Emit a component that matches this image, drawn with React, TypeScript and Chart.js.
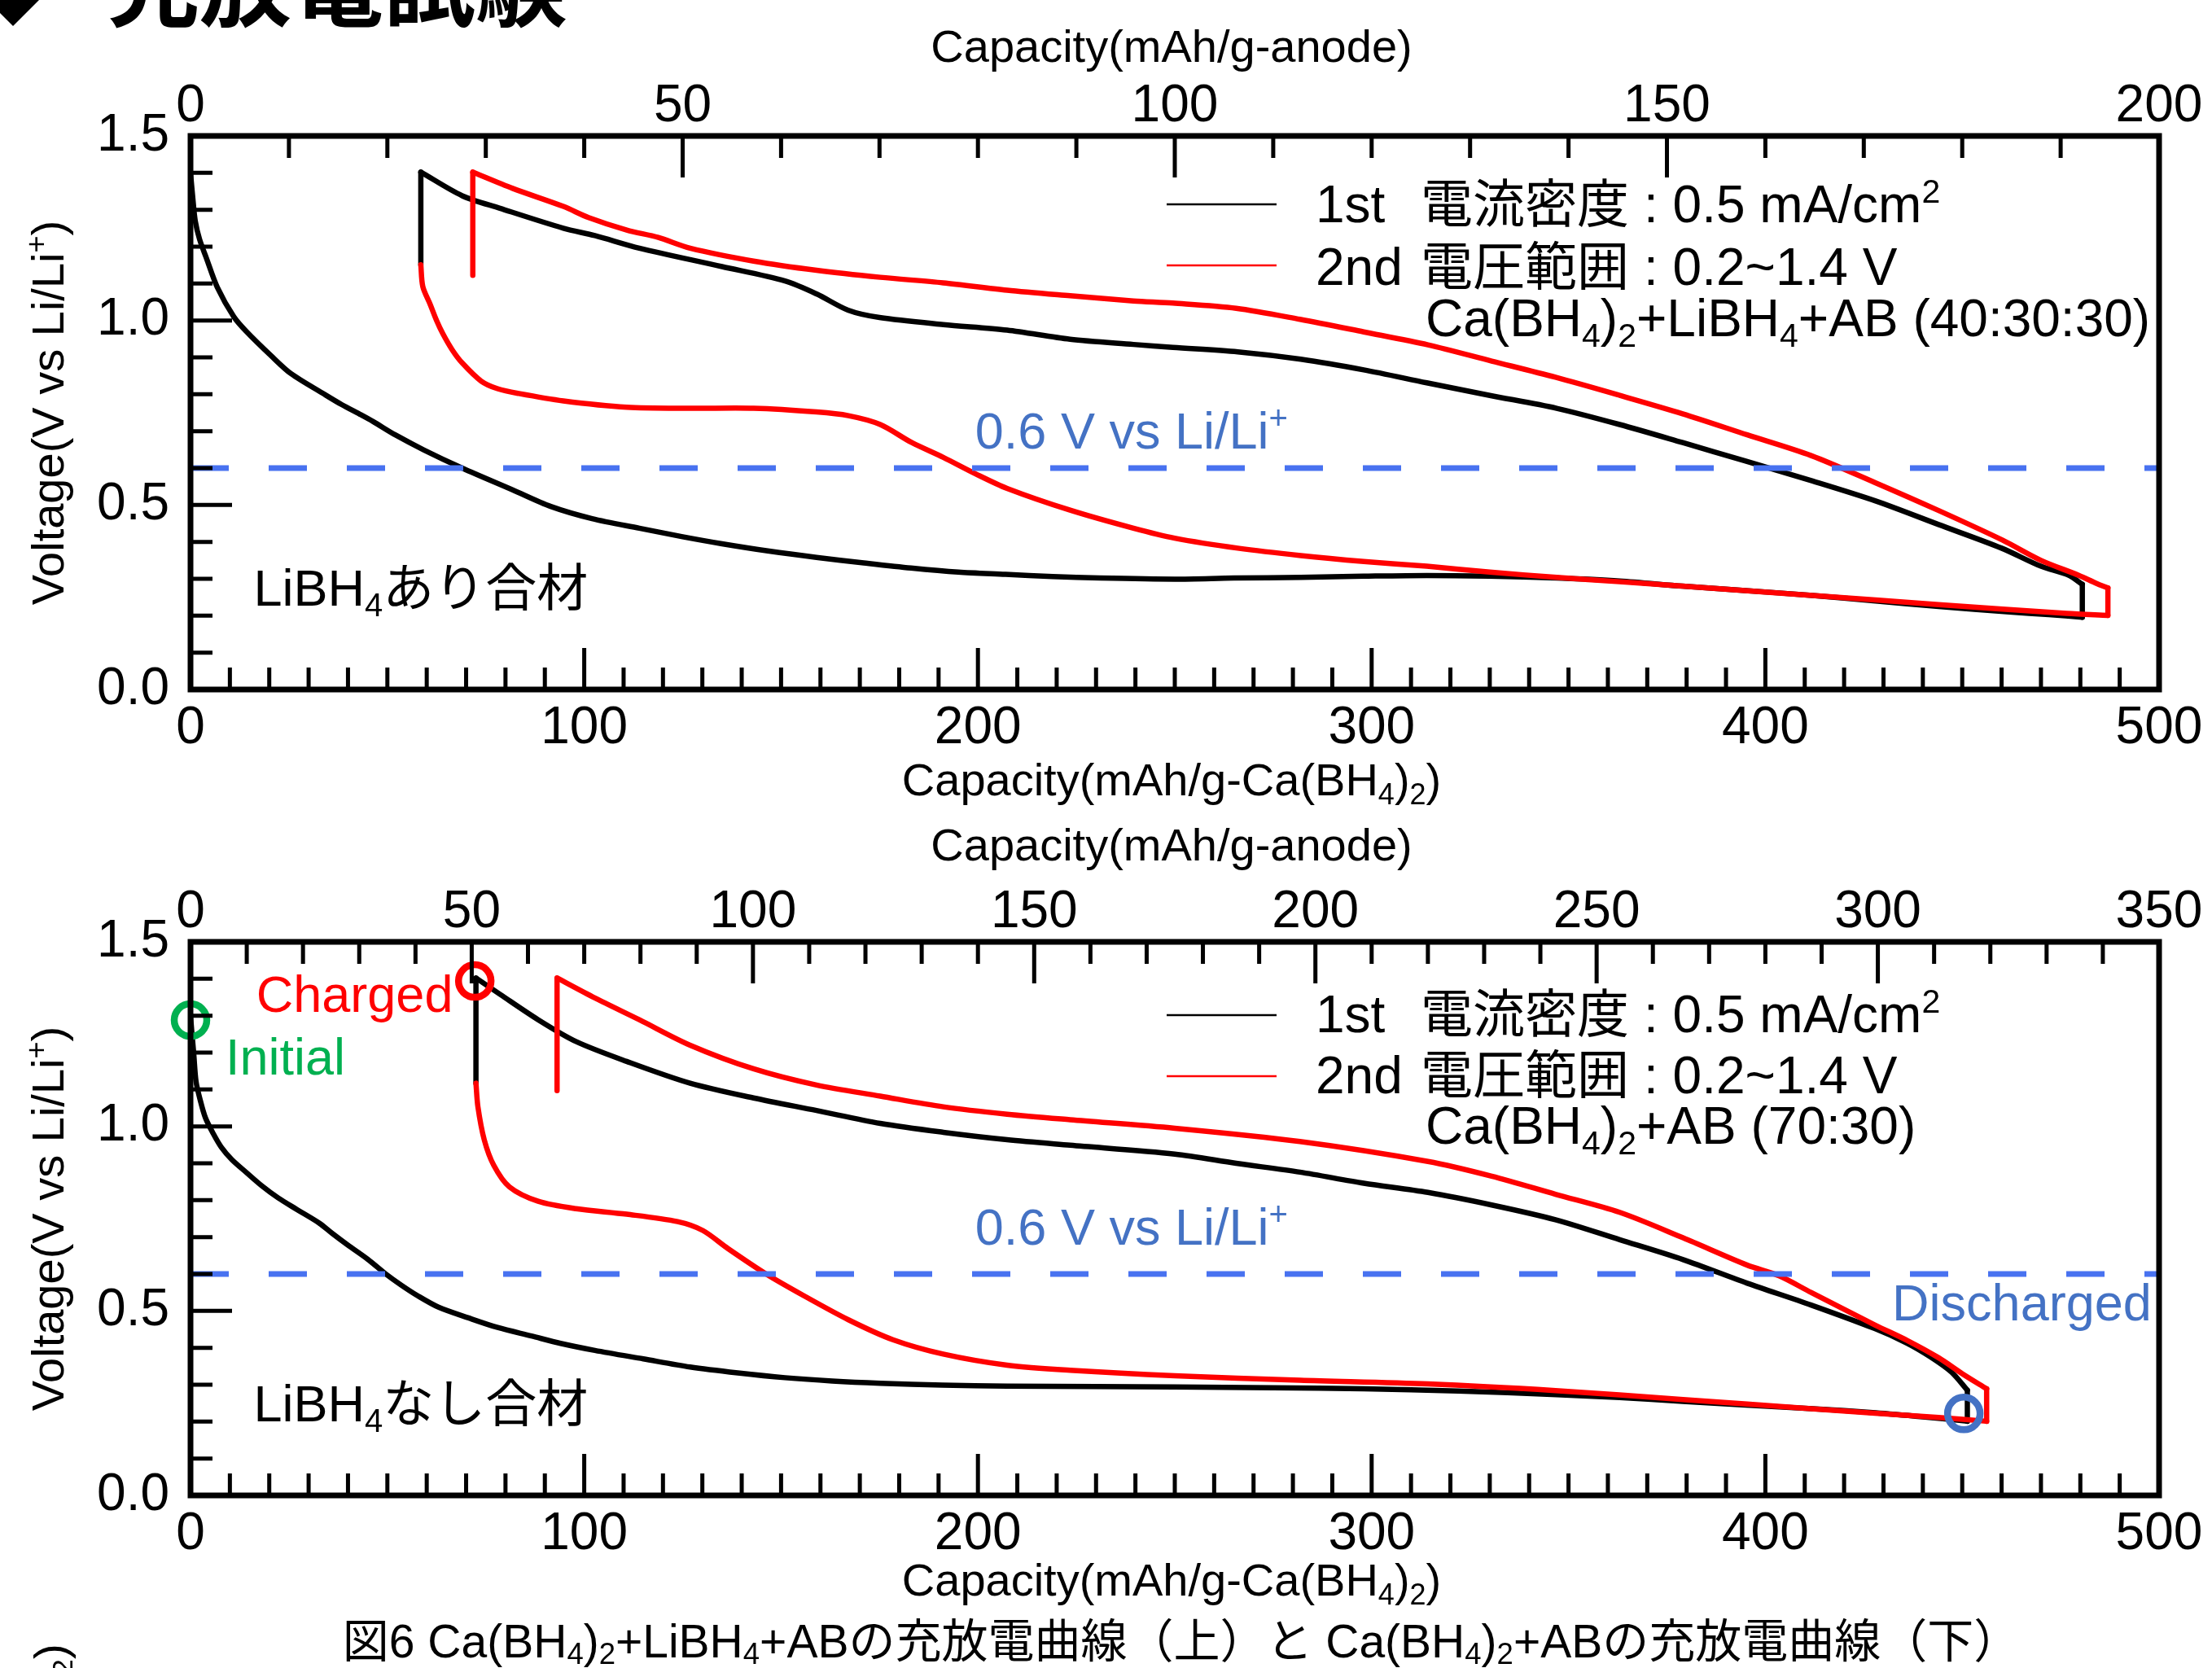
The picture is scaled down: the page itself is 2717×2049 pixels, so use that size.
import React, { useEffect, useRef } from 'react';
import { Chart, registerables } from 'chart.js';
Chart.register(...registerables);

// ---------------- DATA ----------------
// Top panel: Ca(BH4)2+LiBH4+AB (40:30:30)
const top1stDischargeCap = [0, 0.6, 1.2, 2.3, 4, 6.8, 11, 14.2, 20.5, 25.5, 34, 38.4, 43, 46.4, 52, 59.3, 69, 81.8, 91.5, 102, 114, 125, 135, 147, 159, 171, 183, 195, 207, 219, 231, 250, 265, 282, 298, 314, 330, 347, 363, 379, 395, 412, 428, 444, 462, 472, 480.5];
const top1stDischargeV = [1.4, 1.33, 1.27, 1.22, 1.17, 1.09, 1.01, 0.97, 0.904, 0.856, 0.8, 0.772, 0.746, 0.726, 0.69, 0.649, 0.6, 0.541, 0.496, 0.463, 0.437, 0.414, 0.395, 0.375, 0.358, 0.343, 0.329, 0.318, 0.312, 0.306, 0.302, 0.299, 0.302, 0.304, 0.307, 0.309, 0.307, 0.302, 0.294, 0.28, 0.268, 0.255, 0.24, 0.225, 0.21, 0.203, 0.196];
const top1stChargeCap = [480.5, 480.5, 477, 470, 460, 444, 428, 412, 395, 379, 363, 347, 330, 314, 298, 282, 266, 249.5, 239.5, 223.4, 207.4, 191.2, 175, 167, 159, 151, 135, 114, 102.7, 94.7, 78.6, 69, 58.5, 58.5];
const top1stChargeV = [0.196, 0.285, 0.31, 0.334, 0.383, 0.447, 0.511, 0.565, 0.619, 0.669, 0.718, 0.762, 0.797, 0.831, 0.866, 0.895, 0.915, 0.927, 0.935, 0.949, 0.974, 0.989, 1.008, 1.028, 1.072, 1.107, 1.146, 1.196, 1.23, 1.25, 1.304, 1.338, 1.402, 1.151];
const top2ndDischargeCap = [58.5, 59, 60.9, 62.5, 64.1, 66.5, 69, 73.8, 78, 83.4, 94.7, 110.8, 126.9, 143, 159, 167.1, 175.2, 183.2, 191.2, 199.3, 207.4, 223.4, 239.5, 250, 266, 282, 298, 314, 330, 347, 363, 379, 412, 444, 476.5, 487];
const top2ndDischargeV = [1.151, 1.092, 1.043, 1.0, 0.964, 0.92, 0.885, 0.836, 0.815, 0.802, 0.782, 0.765, 0.762, 0.762, 0.752, 0.742, 0.718, 0.669, 0.629, 0.585, 0.545, 0.486, 0.437, 0.41, 0.383, 0.363, 0.347, 0.334, 0.318, 0.304, 0.292, 0.28, 0.255, 0.23, 0.206, 0.201];
const top2ndChargeCap = [487, 487, 484, 479.7, 470, 460.2, 444, 427.8, 411.6, 395.4, 379, 363, 346.7, 330.5, 314.3, 298, 281.8, 265.6, 249.5, 239.5, 223.4, 207.4, 191.2, 175.2, 159, 143, 126.9, 118.8, 110.8, 101.1, 94.7, 81.8, 71.7, 71.7];
const top2ndChargeV = [0.201, 0.275, 0.288, 0.309, 0.35, 0.405, 0.485, 0.561, 0.634, 0.69, 0.747, 0.797, 0.846, 0.89, 0.934, 0.969, 1.003, 1.033, 1.047, 1.053, 1.067, 1.082, 1.102, 1.117, 1.136, 1.161, 1.196, 1.225, 1.245, 1.279, 1.309, 1.358, 1.402, 1.122];

// Bottom panel: Ca(BH4)2+AB (70:30)
const bot1stDischargeCap = [0, 0.3, 0.8, 1.4, 2.5, 3.8, 5.8, 7.8, 10.5, 14.2, 18, 22.3, 27, 32.7, 36, 40, 45, 49.6, 53.5, 57.7, 63, 70.6, 78, 86.6, 94, 102.7, 115, 126.9, 139, 151, 163, 175.2, 191, 207.4, 230, 250, 275, 298, 322, 347, 363, 379, 395, 412, 428, 440, 451.3];
const bot1stDischargeV = [1.3, 1.26, 1.2, 1.122, 1.07, 1.023, 0.98, 0.944, 0.91, 0.875, 0.84, 0.806, 0.775, 0.738, 0.71, 0.678, 0.64, 0.6, 0.57, 0.541, 0.51, 0.481, 0.455, 0.432, 0.412, 0.393, 0.37, 0.348, 0.332, 0.319, 0.31, 0.304, 0.299, 0.296, 0.295, 0.294, 0.292, 0.289, 0.283, 0.273, 0.265, 0.255, 0.245, 0.235, 0.224, 0.213, 0.201];
const bot1stChargeCap = [451.3, 451.3, 447.3, 442, 435.9, 427.8, 411.6, 395.4, 379.1, 363, 346.7, 330.5, 314.3, 298, 281.8, 265.6, 250, 223.4, 207.4, 191.2, 175.2, 159, 143, 126.9, 110.8, 97.9, 88.3, 78.6, 72.5, 72.5];
const bot1stChargeV = [0.201, 0.285, 0.334, 0.375, 0.413, 0.452, 0.516, 0.575, 0.639, 0.693, 0.747, 0.787, 0.821, 0.846, 0.876, 0.9, 0.925, 0.949, 0.964, 0.984, 1.008, 1.043, 1.077, 1.117, 1.176, 1.23, 1.289, 1.358, 1.402, 1.117];
const bot2ndDischargeCap = [72.5, 73, 74.6, 77, 81, 88.3, 97.9, 110.8, 123.7, 130.1, 136.5, 146.2, 155.8, 167.1, 178.4, 191.2, 207.4, 223.4, 250, 281.8, 314.3, 346.7, 379.1, 411.6, 444, 456.2];
const bot2ndDischargeV = [1.117, 1.053, 0.964, 0.895, 0.836, 0.797, 0.777, 0.762, 0.742, 0.718, 0.669, 0.6, 0.541, 0.476, 0.422, 0.383, 0.353, 0.339, 0.324, 0.312, 0.302, 0.284, 0.26, 0.235, 0.211, 0.201];
const bot2ndChargeCap = [456.2, 456.2, 450, 444, 436, 427.8, 411.6, 403.5, 395.4, 379.1, 363, 346.7, 330.5, 314.3, 281.8, 250, 223.4, 207.4, 191.2, 175.2, 159, 143, 126.9, 114, 102.7, 93.1, 93.1];
const bot2ndChargeV = [0.201, 0.289, 0.33, 0.373, 0.42, 0.462, 0.55, 0.595, 0.624, 0.698, 0.767, 0.816, 0.865, 0.905, 0.959, 0.995, 1.018, 1.033, 1.053, 1.082, 1.112, 1.156, 1.22, 1.289, 1.348, 1.402, 1.097];

// State markers (bottom panel): Initial, Charged, Discharged
const markerCap = [0, 72.2, 450.4];
const markerV = [1.288, 1.394, 0.222];
const markerColors = ['#00B050', '#FF0000', '#4472C4'];

// 0.6 V reference line
const refLineCap = [0, 500];
const refLineV = [0.6, 0.6];

// Axis ranges / tick steps
const bottomAxisMax = 500;
const bottomAxisStep = 100;
const topAxisMaxTop = 200;
const topAxisMaxBottom = 350;
const topAxisStep = 50;
const voltMax = 1.5;
const voltStep = 0.5;

// ---------------- STYLE ----------------
const FONT = '"Liberation Sans", Arial, "Noto Sans CJK JP", sans-serif';
const BLUE_TEXT = '#4472C4';
const DASH_BLUE = '#4872F0';

type Seg = { t: string; s?: 'sub' | 'sup' };
type Pt = { x: number; y: number };

const pts = (c: number[], v: number[]): Pt[] => c.map((x, i) => ({ x, y: v[i] }));

// split a polyline into pieces: vertical (rest) steps vs. curved stretches
function splitPieces(p: Pt[]): { pts: Pt[]; vertical: boolean }[] {
  const out: { pts: Pt[]; vertical: boolean }[] = [];
  let cur: Pt[] = [p[0]];
  let curV: boolean | null = null;
  for (let i = 1; i < p.length; i++) {
    const v = p[i].x === p[i - 1].x;
    if (curV !== null && v !== curV) {
      out.push({ pts: cur, vertical: curV });
      cur = [p[i - 1]];
    }
    curV = v;
    cur.push(p[i]);
  }
  out.push({ pts: cur, vertical: !!curV });
  return out;
}

function drawRich(ctx: CanvasRenderingContext2D, segs: Seg[], x: number, y: number, size: number, color: string, align: 'left' | 'center' = 'left') {
  const big = `${size}px ${FONT}`;
  const small = `${Math.round(size * 0.64)}px ${FONT}`;
  let w = 0;
  for (const s of segs) {
    ctx.font = s.s ? small : big;
    w += ctx.measureText(s.t).width;
  }
  let cx = align === 'center' ? x - w / 2 : x;
  ctx.fillStyle = color;
  ctx.textAlign = 'left';
  ctx.textBaseline = 'alphabetic';
  for (const s of segs) {
    ctx.font = s.s ? small : big;
    const dy = s.s === 'sub' ? size * 0.2 : s.s === 'sup' ? -size * 0.38 : 0;
    ctx.fillText(s.t, cx, y + dy);
    cx += ctx.measureText(s.t).width;
  }
}

interface Spec {
  id: string;
  topMax: number;
  topH: number;
  bottomH: number;
  first: Pt[];
  second: Pt[];
  markers: boolean;
  topTitleBase: number;
  bottomTitleBase: number;
  legendLines: [number, number];
  legendBases: [number, number, number];
  comp: Seg[];
  sample: Seg[];
  sampleV: number;
  refLabelV: number;
}

const xTitleTop: Seg[] = [{ t: 'Capacity(mAh/g-anode)' }];
const xTitleBottom: Seg[] = [{ t: 'Capacity(mAh/g-Ca(BH' }, { t: '4', s: 'sub' }, { t: ')' }, { t: '2', s: 'sub' }, { t: ')' }];
const yTitle: Seg[] = [{ t: 'Voltage(V vs Li/Li' }, { t: '+', s: 'sup' }, { t: ')' }];
const refLabel: Seg[] = [{ t: '0.6 V vs Li/Li' }, { t: '+', s: 'sup' }];

const TOP_SPEC: Spec = {
  id: 'top',
  topMax: topAxisMaxTop,
  topH: 167,
  bottomH: 153,
  first: [...pts(top1stDischargeCap, top1stDischargeV), ...pts(top1stChargeCap, top1stChargeV)],
  second: [...pts(top2ndDischargeCap, top2ndDischargeV), ...pts(top2ndChargeCap, top2ndChargeV)],
  markers: false,
  topTitleBase: 76,
  bottomTitleBase: 977,
  legendLines: [84, 159],
  legendBases: [106, 183, 246],
  comp: [{ t: 'Ca(BH' }, { t: '4', s: 'sub' }, { t: ')' }, { t: '2', s: 'sub' }, { t: '+LiBH' }, { t: '4', s: 'sub' }, { t: '+AB (40:30:30)' }],
  sample: [{ t: 'LiBH' }, { t: '4', s: 'sub' }, { t: 'あり合材' }],
  sampleV: 0.227,
  refLabelV: 0.653,
};

const BOTTOM_SPEC: Spec = {
  id: 'bottom',
  topMax: topAxisMaxBottom,
  topH: 157,
  bottomH: 212,
  first: [...pts(bot1stDischargeCap, bot1stDischargeV), ...pts(bot1stChargeCap, bot1stChargeV)],
  second: [...pts(bot2ndDischargeCap, bot2ndDischargeV), ...pts(bot2ndChargeCap, bot2ndChargeV)],
  markers: true,
  topTitleBase: 57,
  bottomTitleBase: 960,
  legendLines: [90, 165],
  legendBases: [111, 186, 248],
  comp: [{ t: 'Ca(BH' }, { t: '4', s: 'sub' }, { t: ')' }, { t: '2', s: 'sub' }, { t: '+AB (70:30)' }],
  sample: [{ t: 'LiBH' }, { t: '4', s: 'sub' }, { t: 'なし合材' }],
  sampleV: 0.2,
  refLabelV: 0.679,
};

function makeDecor(spec: Spec) {
  return {
    id: 'decor_' + spec.id,
    afterDatasetsDraw(chart: any) {
      const ctx: CanvasRenderingContext2D = chart.ctx;
      const ca = chart.chartArea;
      const xs = chart.scales.x;
      const xt = chart.scales.xTop;
      const ys = chart.scales.y;
      ctx.save();
      // inward tick marks
      ctx.strokeStyle = '#000';
      ctx.lineWidth = 5;
      ctx.lineCap = 'butt';
      ctx.beginPath();
      for (let i = 1; i < bottomAxisMax / 10; i++) {
        const px = xs.getPixelForValue(i * 10);
        const len = i % 10 === 0 ? 51 : 27;
        ctx.moveTo(px, ca.bottom);
        ctx.lineTo(px, ca.bottom - len);
      }
      for (let i = 1; i < spec.topMax / 10; i++) {
        const px = xt.getPixelForValue(i * 10);
        const len = i % 5 === 0 ? 51 : 27;
        ctx.moveTo(px, ca.top);
        ctx.lineTo(px, ca.top + len);
      }
      for (let i = 1; i < 15; i++) {
        const py = ys.getPixelForValue(i / 10);
        const len = i % 5 === 0 ? 51 : 27;
        ctx.moveTo(ca.left, py);
        ctx.lineTo(ca.left + len, py);
      }
      ctx.stroke();
      // frame
      ctx.lineWidth = 7;
      ctx.strokeRect(ca.left, ca.top, ca.right - ca.left, ca.bottom - ca.top);

      // axis titles
      const cx = (ca.left + ca.right) / 2 - 4;
      drawRich(ctx, xTitleTop, cx, spec.topTitleBase, 56, '#000', 'center');
      drawRich(ctx, xTitleBottom, cx, spec.bottomTitleBase, 56, '#000', 'center');
      ctx.save();
      ctx.translate(78, (ca.top + ca.bottom) / 2);
      ctx.rotate(-Math.PI / 2);
      drawRich(ctx, yTitle, 0, 0, 56, '#000', 'center');
      ctx.restore();

      // legend
      const lx0 = 1433, lx1 = 1568;
      ctx.lineWidth = 2.5;
      ctx.strokeStyle = '#000';
      ctx.beginPath();
      ctx.moveTo(lx0, ca.top + spec.legendLines[0]);
      ctx.lineTo(lx1, ca.top + spec.legendLines[0]);
      ctx.stroke();
      ctx.strokeStyle = '#FF0000';
      ctx.beginPath();
      ctx.moveTo(lx0, ca.top + spec.legendLines[1]);
      ctx.lineTo(lx1, ca.top + spec.legendLines[1]);
      ctx.stroke();
      const b1 = ca.top + spec.legendBases[0];
      const b2 = ca.top + spec.legendBases[1];
      const lf = 64;
      drawRich(ctx, [{ t: '1st' }], 1616, b1, lf, '#000');
      drawRich(ctx, [{ t: '電流密度' }], 1745, b1, lf, '#000');
      drawRich(ctx, [{ t: ': 0.5 mA/cm' }, { t: '2', s: 'sup' }], 2019, b1, lf, '#000');
      drawRich(ctx, [{ t: '2nd' }], 1616, b2, lf, '#000');
      drawRich(ctx, [{ t: '電圧範囲' }], 1745, b2, lf, '#000');
      drawRich(ctx, [{ t: ': 0.2~1.4 V' }], 2019, b2, lf, '#000');
      drawRich(ctx, spec.comp, 1751, ca.top + spec.legendBases[2], lf, '#000');

      // annotations
      drawRich(ctx, refLabel, xs.getPixelForValue(199.3), ys.getPixelForValue(spec.refLabelV), 63, BLUE_TEXT);
      drawRich(ctx, spec.sample, xs.getPixelForValue(16), ys.getPixelForValue(spec.sampleV), 63, '#000');
      if (spec.markers) {
        drawRich(ctx, [{ t: 'Charged' }], xs.getPixelForValue(16.7), ys.getPixelForValue(1.31), 63, '#FF0000');
        drawRich(ctx, [{ t: 'Initial' }], xs.getPixelForValue(8.9), ys.getPixelForValue(1.14), 63, '#00B050');
        drawRich(ctx, [{ t: 'Discharged' }], xs.getPixelForValue(432.2), ys.getPixelForValue(0.474), 63, BLUE_TEXT);
      }
      ctx.restore();
    },
  };
}

function curveDatasets(label: string, p: Pt[], color: string): any[] {
  return splitPieces(p).map((piece, i) => ({
    label: `${label}-${i}`,
    data: piece.pts,
    showLine: true,
    borderColor: color,
    borderWidth: 6.5,
    pointRadius: 0,
    tension: piece.vertical ? 0 : 0.3,
    borderJoinStyle: 'round',
    borderCapStyle: 'round',
  }));
}

function makeConfig(spec: Spec): any {
  const tickFont = { family: FONT, size: 64 };
  const datasets: any[] = [];
  if (spec.markers) {
    datasets.push({
      label: 'states',
      data: pts(markerCap, markerV),
      showLine: false,
      pointRadius: 20,
      pointBorderWidth: 8.5,
      borderWidth: 8.5,
      pointBorderColor: markerColors,
      pointBackgroundColor: 'rgba(0,0,0,0)',
      clip: false,
    });
  }
  datasets.push({
    label: '0.6 V vs Li/Li+',
    data: pts(refLineCap, refLineV),
    showLine: true,
    borderColor: DASH_BLUE,
    borderWidth: 7,
    borderDash: [47, 49],
    pointRadius: 0,
  });
  datasets.push(...curveDatasets('2nd', spec.second, '#FF0000'));
  datasets.push(...curveDatasets('1st', spec.first, '#000000'));
  return {
    type: 'scatter',
    data: { datasets },
    options: {
      responsive: false,
      animation: false,
      devicePixelRatio: 1,
      events: [],
      layout: { padding: { left: 0, right: 65, top: 0, bottom: 0 } },
      plugins: { legend: { display: false }, tooltip: { enabled: false } },
      scales: {
        x: {
          type: 'linear',
          position: 'bottom',
          min: 0,
          max: bottomAxisMax,
          afterFit: (s: any) => { s.height = spec.bottomH; },
          ticks: { stepSize: bottomAxisStep, font: tickFont, color: '#000', padding: 10, maxRotation: 0, autoSkip: false },
          grid: { display: false, drawTicks: false },
          border: { display: false },
        },
        xTop: {
          type: 'linear',
          axis: 'x',
          position: 'top',
          min: 0,
          max: spec.topMax,
          afterFit: (s: any) => { s.height = spec.topH; },
          ticks: { stepSize: topAxisStep, font: tickFont, color: '#000', padding: -3, maxRotation: 0, autoSkip: false },
          grid: { display: false, drawTicks: false },
          border: { display: false },
        },
        y: {
          type: 'linear',
          position: 'left',
          min: 0,
          max: voltMax,
          afterFit: (s: any) => { s.width = 234; },
          ticks: { stepSize: voltStep, font: tickFont, color: '#000', padding: 26, callback: (v: any) => Number(v).toFixed(1) },
          grid: { display: false, drawTicks: false },
          border: { display: false },
        },
      },
    },
    plugins: [makeDecor(spec)],
  };
}

const subStyle: React.CSSProperties = { fontSize: '0.64em', verticalAlign: '-0.22em', lineHeight: 0 };

export default function App() {
  const refA = useRef<HTMLCanvasElement>(null);
  const refB = useRef<HTMLCanvasElement>(null);
  useEffect(() => {
    const a = new Chart(refA.current as HTMLCanvasElement, makeConfig(TOP_SPEC));
    const b = new Chart(refB.current as HTMLCanvasElement, makeConfig(BOTTOM_SPEC));
    return () => {
      a.destroy();
      b.destroy();
    };
  }, []);
  return (
    <div style={{ position: 'absolute', left: 0, top: 0, width: 2717, height: 2049, overflow: 'hidden', background: '#fff' }}>
      <div style={{ position: 'absolute', left: -24, top: -52, fontSize: 80, lineHeight: 1, fontFamily: '"Noto Sans CJK JP", sans-serif', whiteSpace: 'nowrap' }}>◆</div>
      <div style={{ position: 'absolute', left: 132, top: -82, fontSize: 113, fontWeight: 700, lineHeight: 1, fontFamily: '"Noto Sans CJK JP", sans-serif', whiteSpace: 'nowrap' }}>充放電試験</div>
      <canvas ref={refA} width={2717} height={1000} style={{ position: 'absolute', left: 0, top: 0, width: 2717, height: 1000 }} />
      <canvas ref={refB} width={2717} height={1049} style={{ position: 'absolute', left: 0, top: 1000, width: 2717, height: 1049 }} />
      <div style={{ position: 'absolute', left: 1451 - 1500, width: 3000, top: 1988, textAlign: 'center', fontSize: 57, lineHeight: 1, fontFamily: FONT, whiteSpace: 'nowrap', color: '#000' }}>
        図6 Ca(BH<span style={subStyle}>4</span>)<span style={subStyle}>2</span>+LiBH<span style={subStyle}>4</span>+ABの充放電曲線（上）と Ca(BH<span style={subStyle}>4</span>)<span style={subStyle}>2</span>+ABの充放電曲線（下）
      </div>
      <div style={{ position: 'absolute', left: 34, top: 2058, transformOrigin: 'left top', transform: 'rotate(-90deg)', fontSize: 56, lineHeight: 1, fontFamily: FONT, whiteSpace: 'nowrap' }}>
        <span style={subStyle}>2</span>)
      </div>
    </div>
  );
}
